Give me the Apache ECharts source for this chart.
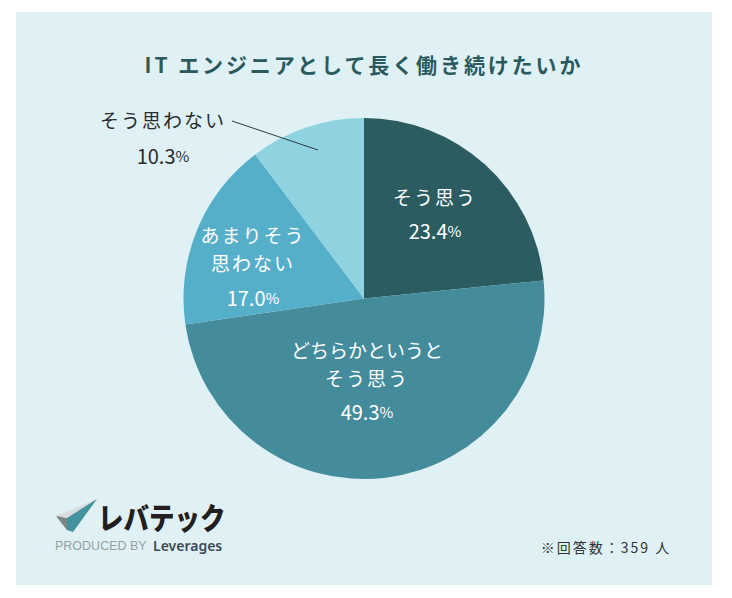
<!DOCTYPE html>
<html>
<head>
<meta charset="utf-8">
<style>
  html, body { margin: 0; padding: 0; background: #fff; }
  #chart { width: 732px; height: 598px; }
</style>
<script src="https://cdn.jsdelivr.net/npm/echarts@6/dist/echarts.min.js"></script>
</head>
<body>
<div id="chart"></div>
<script>
const font = '"Noto Sans CJK JP", "Noto Sans", sans-serif'

const titleText = 'IT エンジニアとして長く働き続けたいか'
const noteText = '※回答数：359 人'
const categories = ['そう思う', 'どちらかというと\nそう思う', 'あまりそう\n思わない', 'そう思わない']
const values = [23.4, 49.3, 17.0, 10.3]
const sliceColors = ['#2b5c60', '#448b9b', '#55afc9', '#90d3e0']
const labelColors = ['#ffffff', '#ffffff', '#ffffff', '#2b2b30']
// ラベルの位置 [x, 名前の中心y, 数値の中心y]
const labelPos = [[435, 196, 230], [367, 363, 411], [253, 248, 297], [163, 119, 155]]

const chart = echarts.init(document.getElementById('chart'), null, { renderer: 'svg' })

const labelGraphics = categories.flatMap((name, i) => [
  {
    type: 'text', z: 10, x: labelPos[i][0], y: labelPos[i][1],
    style: { text: name, fontFamily: font, fontSize: 19, lineHeight: 28, fontWeight: 400, fill: labelColors[i], align: 'center', verticalAlign: 'middle' },
  },
  {
    type: 'text', z: 10, x: labelPos[i][0], y: labelPos[i][2],
    style: {
      text: `{num|${values[i].toFixed(1)}}{pct|%}`,
      align: 'center',
      verticalAlign: 'middle',
      rich: {
        num: { fontFamily: font, fontSize: 20, fontWeight: 400, fill: labelColors[i] },
        pct: { fontFamily: font, fontSize: 15, fontWeight: 400, fill: labelColors[i] },
      },
    },
  },
])

chart.setOption({
  animation: false,
  graphic: [
    { type: 'rect', z: -10, shape: { x: 16, y: 12, width: 696, height: 573 }, style: { fill: '#dff1f5' } },
    {
      type: 'text', z: 5, x: 364, y: 64,
      style: { text: titleText, fontFamily: font, fontSize: 21, fontWeight: 700, fill: '#2a5a5e', align: 'center', verticalAlign: 'middle' },
    },
    // 「そう思わない」の引き出し線
    { type: 'line', z: 20, shape: { x1: 232, y1: 121, x2: 318, y2: 150 }, style: { stroke: '#2f3a40', lineWidth: 1 } },
    ...labelGraphics,
    {
      type: 'text', z: 5, x: 606, y: 547,
      style: { text: noteText, fontFamily: font, fontSize: 14, fontWeight: 400, fill: '#333', align: 'center', verticalAlign: 'middle' },
    },
    // ロゴ
    { type: 'polygon', z: 5, shape: { points: [[97, 499], [56, 516], [67, 530]] }, style: { fill: '#d9dcdc' } },
    { type: 'polygon', z: 6, shape: { points: [[56, 516], [67, 530], [71, 519]] }, style: { fill: '#7c8588' } },
    { type: 'polygon', z: 7, shape: { points: [[97, 499], [67, 518], [67, 530], [73, 532]] }, style: { fill: '#44929f' } },
    {
      type: 'text', z: 5, x: 98, y: 516, scaleX: 0.85,
      style: { text: 'レバテック', fontFamily: font, fontSize: 30, fontWeight: 900, fill: '#231f20', align: 'left', verticalAlign: 'middle' },
    },
    {
      type: 'text', z: 5, x: 55, y: 546,
      style: { text: 'PRODUCED BY', fontFamily: '"Liberation Sans", sans-serif', fontSize: 12.5, fill: '#98a0a4', align: 'left', verticalAlign: 'middle' },
    },
    {
      type: 'text', z: 5, x: 153, y: 545,
      style: { text: 'Leverages', fontFamily: '"Noto Sans", sans-serif', fontSize: 14, fontWeight: 600, fill: '#3d4a55', align: 'left', verticalAlign: 'middle' },
    },
  ],
  series: [
    {
      type: 'pie',
      center: [364, 298.5],
      radius: [0, 180.5],
      startAngle: 90,
      clockwise: true,
      silent: true,
      itemStyle: { borderWidth: 0 },
      label: { show: false },
      labelLine: { show: false },
      data: categories.map((name, i) => ({
        name,
        value: values[i],
        itemStyle: { color: sliceColors[i] },
      })),
    },
  ],
})

// 字間はzrenderに設定がないのでSVGのtextへ直接当てる
const spacingFor = (text) => {
  if (text === titleText) return '2.9px'
  if (text === noteText) return '2px'
  if (text === 'どちらかというと') return '0px'
  if (categories.some((c) => c.split('\n').includes(text))) return '2px'
  return null
}
const applySpacing = () => {
  document.querySelectorAll('#chart svg text').forEach((el) => {
    const spacing = spacingFor(el.textContent)
    if (spacing) el.style.letterSpacing = spacing
  })
}
chart.on('finished', applySpacing)
applySpacing()
</script>
</body>
</html>
